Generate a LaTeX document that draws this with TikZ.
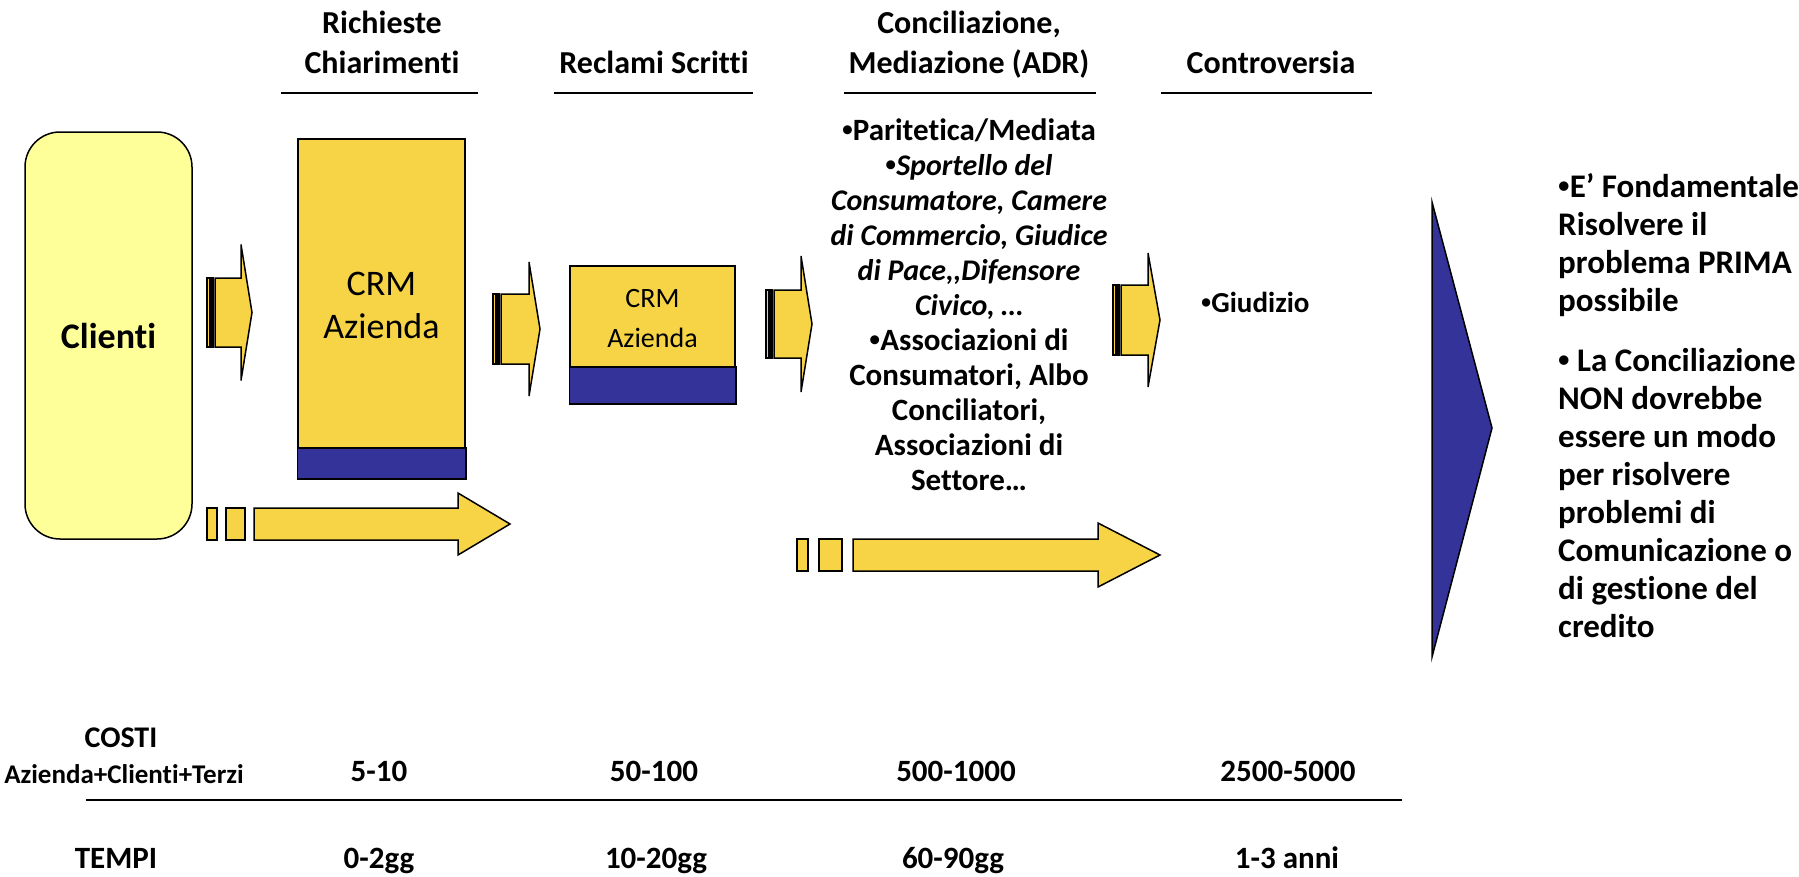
\documentclass[tikz,border=0pt]{standalone}
\usepackage{fontspec}
\setmainfont{Carlito}[Ligatures={NoCommon}]
\newfontfamily\bulfont{Liberation Sans}
\newcommand\bul{{\bulfont •}}
\definecolor{cyellow}{RGB}{247,212,70}
\definecolor{cblue}{RGB}{51,51,153}
\definecolor{clight}{RGB}{255,255,153}
\newcommand\ts[1]{\rule{0pt}{#1pt}}
% striped arrow: xs, tipx, headx, yc, half body, half head
\newcommand\sarrow[6]{%
  \draw[ybox] (#1,#4-#5) rectangle (#1+2.5,#4+#5);
  \draw[ybox] (#1+4,#4-#5) rectangle (#1+6,#4+#5);
  \draw[ybox] (#1+8,#4-#5) -- (#3,#4-#5) -- (#3,#4-#6) -- (#2,#4) -- (#3,#4+#6) -- (#3,#4+#5) -- (#1+8,#4+#5) -- cycle;}
\begin{document}
\begin{tikzpicture}[x=1pt,y=-1pt,
  outl/.style={draw=black, line width=1.5pt, line join=miter},
  ybox/.style={outl, fill=cyellow},
  bbox/.style={outl, fill=cblue},
  txt/.style={inner sep=0pt, text=black},
  hdr/.style={txt, font=\fontsize{32}{40}\selectfont\bfseries, align=center},
  hline/.style={line width=2pt},
  num/.style={txt, font=\fontsize{31}{36}\selectfont\bfseries, anchor=base},
]
\useasboundingbox (0,0) rectangle (1799,876);

% Clienti
\node[outl, fill=clight, rounded corners=35pt, minimum width=167pt, minimum height=407pt, inner sep=0pt,
      font=\fontsize{36}{40}\selectfont\bfseries] (clienti) at (108.5,335.5) {Clienti};

% headers
\node[hdr, anchor=north] (h1) at (382,3) {\ts{30}Richieste\\Chiarimenti};
\node[hdr, anchor=base] (h2) at (654,73) {Reclami Scritti};
\node[hdr, anchor=north] (h3) at (969,3) {\ts{30}Conciliazione,\\Mediazione (ADR)};
\node[hdr, anchor=base] (h4) at (1271,73) {Controversia};
\draw[hline] (281,93) -- (478,93);
\draw[hline] (554,93) -- (753,93);
\draw[hline] (844,93) -- (1096,93);
\draw[hline] (1161,93) -- (1372,93);

% CRM boxes
\node[ybox, minimum width=167pt, minimum height=339pt, inner sep=0pt] (crm1) at (381.5,308.5) {};
\draw[bbox] (crm1.south west) rectangle ([yshift=31pt]crm1.south east);
\node[txt, font=\fontsize{36}{43}\selectfont, align=center, anchor=north] (crm1t) at (381.5,265) {\ts{30}CRM\\Azienda};

\node[ybox, minimum width=165pt, minimum height=137pt, inner sep=0pt] (crm2) at (652.5,334.5) {};
\draw[bbox] (crm2.south west) rectangle ([yshift=37pt]crm2.south east);
\node[txt, font=\fontsize{28}{40}\selectfont, align=center, anchor=north] (crm2t) at (652.5,282) {\ts{25}CRM\\Azienda};

% striped arrows
\sarrow{207}{252}{241}{312.5}{34.5}{68}
\sarrow{493}{540}{529}{329}{35}{67}
\sarrow{766}{812}{801}{324}{34}{68}
\sarrow{1113}{1160}{1148}{320}{35}{67}

% bottom arrows
\draw[ybox] (207,508) rectangle (217,540);
\draw[ybox] (226,508) rectangle (245,540);
\draw[ybox] (254,508) -- (458,508) -- (458,493) -- (510,524) -- (458,555) -- (458,540) -- (254,540) -- cycle;
\draw[ybox] (797,539) rectangle (808,571);
\draw[ybox] (819,539) rectangle (842,571);
\draw[ybox] (853,539) -- (1098,539) -- (1098,523) -- (1160,555) -- (1098,587) -- (1098,571) -- (853,571) -- cycle;

% ADR list
\node[txt, font=\fontsize{31}{35}\selectfont\bfseries, align=center, anchor=north] (adr) at (969,110)
 {\ts{30}\bul Paritetica/Mediata\\\bul\textit{\fontsize{30}{35}\selectfont Sportello del}\\
  \textit{\fontsize{30}{35}\selectfont Consumatore, Camere}\\\textit{\fontsize{30}{35}\selectfont di Commercio, Giudice}\\
  \textit{\fontsize{30}{35}\selectfont di Pace,\kern0pt,Difensore}\\\textit{\fontsize{30}{35}\selectfont Civico, …}\\
  \bul Associazioni di\\Consumatori, Albo\\Conciliatori,\\Associazioni di\\Settore…};

\node[txt, font=\fontsize{29}{34}\selectfont\bfseries, anchor=base west] (giud) at (1201,312) {\bul Giudizio};

% big triangle
\draw[bbox] (1432,202) -- (1492,428) -- (1432,657) -- cycle;

% right notes
\node[txt, font=\fontsize{33}{38}\selectfont\bfseries, align=left, anchor=north west] (note) at (1558,167)
 {\ts{30}\bul E’ Fondamentale\\Risolvere il\\problema PRIMA\\possibile\\[22pt]\bul\ La Conciliazione\\NON dovrebbe\\essere un modo\\per risolvere\\problemi di\\Comunicazione o\\di gestione del\\credito};

% bottom table
\node[txt, font=\fontsize{30}{34}\selectfont\bfseries, anchor=base] (costi) at (121,747) {COSTI};
\node[txt, font=\fontsize{27}{30}\selectfont\bfseries, anchor=base] (terzi) at (124,783) {Azienda+Clienti+Terzi};
\node[num] (c1) at (379,781) {5-10};
\node[num] (c2) at (654,781) {50-100};
\node[num] (c3) at (956,781) {500-1000};
\node[num] (c4) at (1288,781) {2500-5000};
\draw[hline] (86,800) -- (1402,800);
\node[num] (tempi) at (116,868) {TEMPI};
\node[num] (t1) at (379,868) {0-2gg};
\node[num] (t2) at (656,868) {10-20gg};
\node[num] (t3) at (953,868) {60-90gg};
\node[num] (t4) at (1287,868) {1-3 anni};
\end{tikzpicture}
\end{document}
